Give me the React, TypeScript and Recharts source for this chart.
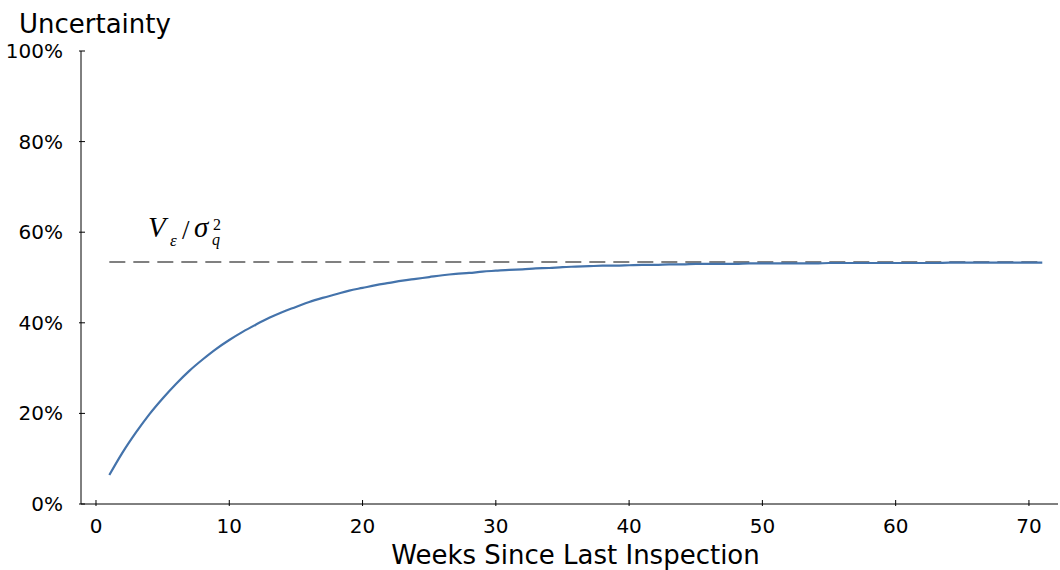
import React from 'react';
import { LineChart, Line, XAxis, YAxis, ReferenceLine, ReferenceDot } from 'recharts';

// uncertainty share for weeks 1..71
const uncertainty = [
  0.064, 0.114, 0.158, 0.198, 0.233, 0.265, 0.294, 0.319, 0.342, 0.362,
  0.380, 0.396, 0.411, 0.424, 0.435, 0.446, 0.455, 0.463, 0.471, 0.477,
  0.483, 0.488, 0.493, 0.497, 0.501, 0.505, 0.508, 0.510, 0.513, 0.515,
  0.517, 0.518, 0.520, 0.521, 0.523, 0.524, 0.525, 0.526, 0.526, 0.527,
  0.528, 0.528, 0.529, 0.529, 0.530, 0.530, 0.530, 0.530, 0.531, 0.531,
  0.531, 0.531, 0.531, 0.531, 0.532, 0.532, 0.532, 0.532, 0.532, 0.532,
  0.532, 0.532, 0.532, 0.533, 0.533, 0.533, 0.533, 0.533, 0.533, 0.533,
  0.533,
];
const firstWeek = 1;
const lastWeek = 71;
const limit = 0.534;
const xTicks = [0, 10, 20, 30, 40, 50, 60, 70];
const yTicks = [0, 0.2, 0.4, 0.6, 0.8, 1];
const annotationAt = { x: 3.9, y: 0.589 };

const data = uncertainty.map((v, i) => ({ week: firstWeek + i, value: v }));

const FONT = '"DejaVu Sans", sans-serif';
const MATH = '"Liberation Serif", "DejaVu Serif", serif';

const XTick = (props: any) => {
  const { x, y, payload } = props;
  return (
    <g>
      <line x1={x} y1={y} x2={x} y2={y - 6} stroke="#000" strokeWidth={1} />
      <text x={x} y={y + 27} textAnchor="middle" fontFamily={FONT} fontSize={20} fill="#000">
        {payload.value}
      </text>
    </g>
  );
};

const YTick = (props: any) => {
  const { x, y, payload } = props;
  return (
    <g>
      <line x1={x} y1={y} x2={x + 6} y2={y} stroke="#000" strokeWidth={1} />
      <text x={x - 16} y={y + 7} textAnchor="end" fontFamily={FONT} fontSize={20} fill="#000">
        {`${Math.round(payload.value * 100)}%`}
      </text>
    </g>
  );
};

const Annotation = (props: any) => {
  const vb = props.viewBox || {};
  const x = (vb.x ?? 0) + 1;
  const y = (vb.y ?? 0) + 1;
  return (
    <g fontFamily={MATH} fill="#000">
      <text x={x} y={y} fontSize={29} fontStyle="italic">V</text>
      <text x={x + 22} y={y + 9} fontSize={17} fontStyle="italic">ε</text>
      <text x={x + 34} y={y + 2} fontSize={27}>/</text>
      <text x={x + 46} y={y} fontSize={29} fontStyle="italic">σ</text>
      <text x={x + 65} y={y - 7} fontSize={16}>2</text>
      <text x={x + 64} y={y + 8} fontSize={16} fontStyle="italic">q</text>
    </g>
  );
};

export default function App() {
  return (
    <div style={{ position: 'absolute', left: 0, top: 0, width: 1060, height: 570, background: '#fff' }}>
      <LineChart width={1060} height={570} data={data} margin={{ top: 51, right: 2, left: 21, bottom: 36 }}>
        <XAxis
          dataKey="week"
          type="number"
          domain={[-1.125, 72.18]}
          ticks={xTicks}
          allowDataOverflow
          tickSize={0}
          tickLine={false}
          axisLine={{ stroke: '#000', strokeWidth: 1 }}
          tick={<XTick />}
          height={30}
          label={(p: any) => {
            const vb = p.viewBox || {};
            return (
              <text x={vb.x + vb.width / 2 + 6} y={564} textAnchor="middle" fontFamily={FONT} fontSize={26} fill="#000">
                Weeks Since Last Inspection
              </text>
            );
          }}
        />
        <YAxis
          type="number"
          domain={[0, 1]}
          ticks={yTicks}
          allowDataOverflow
          tickSize={0}
          tickLine={false}
          axisLine={{ stroke: '#000', strokeWidth: 1 }}
          tick={<YTick />}
          width={60}
          label={(p: any) => {
            const vb = p.viewBox || {};
            return (
              <text x={vb.x - 2} y={vb.y - 18} fontFamily={FONT} fontSize={26} fill="#000">
                Uncertainty
              </text>
            );
          }}
        />
        <ReferenceLine
          segment={[{ x: firstWeek, y: limit }, { x: lastWeek, y: limit }]}
          stroke="#808080"
          strokeWidth={2}
          strokeDasharray="16 8"
        />
        <ReferenceDot x={annotationAt.x} y={annotationAt.y} r={1} fill="none" stroke="none" label={<Annotation />} />
        <Line
          type="monotone"
          dataKey="value"
          stroke="#4473ab"
          strokeWidth={2.2}
          dot={false}
          isAnimationActive={false}
        />
      </LineChart>
    </div>
  );
}
